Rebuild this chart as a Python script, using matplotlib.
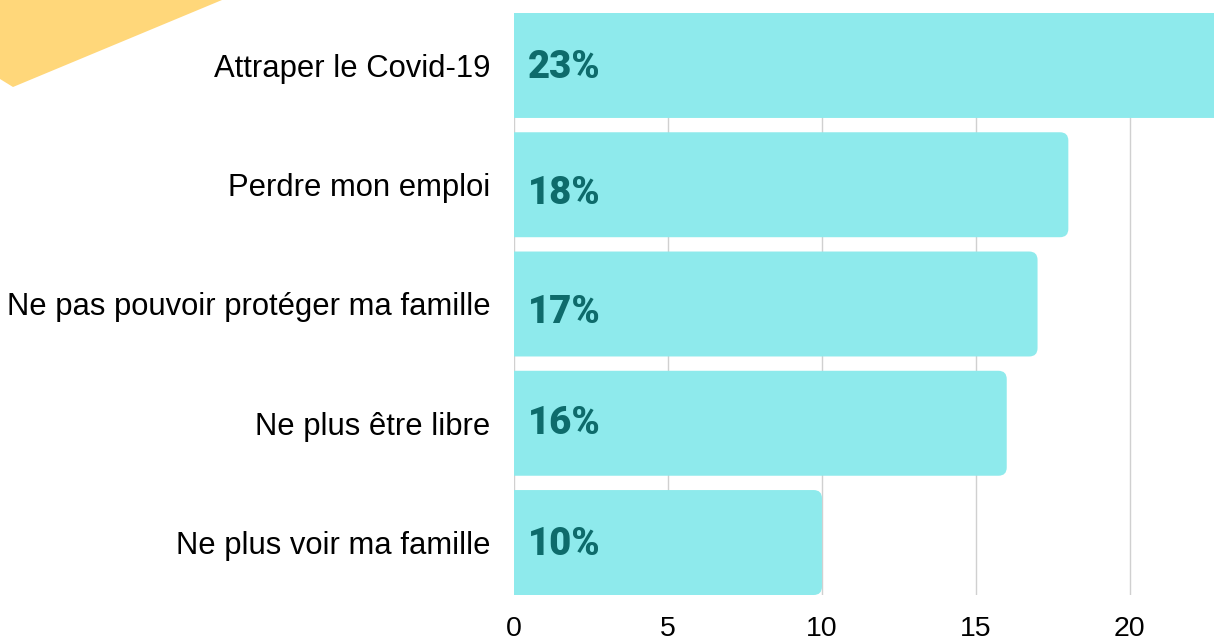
import matplotlib.pyplot as plt
from matplotlib.patches import FancyBboxPatch, Polygon

categories = ["Attraper le Covid-19", "Perdre mon emploi",
              "Ne pas pouvoir protéger ma famille", "Ne plus être libre",
              "Ne plus voir ma famille"]
values = [23, 18, 17, 16, 10]
labels = ["23%", "18%", "17%", "16%", "10%"]

bar_color = "#8eeaec"
text_color = "#0e6b6b"

plt.rcParams['font.family'] = ['Liberation Sans', 'DejaVu Sans']

fig = plt.figure(figsize=(12.14, 6.41), dpi=100)
ax = fig.add_axes([514 / 1214, 1 - 595 / 641, 1 - 514 / 1214, (595 - 13) / 641])

# decorative yellow shape in the top left corner
fig.patches.append(Polygon([(0, 1), (222 / 1214, 1), (13 / 1214, 1 - 87 / 641), (0, 1 - 79 / 641)],
                           closed=True, transform=fig.transFigure, facecolor="#ffd77a",
                           edgecolor="none", zorder=0))

y = list(range(len(values)))
bars = ax.barh(y, values, height=0.88, color=bar_color, zorder=2)
ax.set_xlim(0, 22.73)
ax.set_ylim(4.44, -0.44)

# swap plain bars for ones with rounded right corners
aspect = (1 / 119.3) / (1 / 30.8)
for b in bars:
    b.set_visible(False)
    r = FancyBboxPatch((b.get_x() - 1, b.get_y()), b.get_width() + 1, b.get_height(),
                       boxstyle="round,pad=0,rounding_size=0.27", mutation_aspect=aspect,
                       facecolor=bar_color, edgecolor="none", zorder=2)
    ax.add_patch(r)

offsets = [0.02, 0.07, 0.07, 0.0, 0.02]
for yi, lab, dy in zip(y, labels, offsets):
    ax.text(0.45, yi + dy, lab, va="center", ha="left", fontsize=27.5,
            fontfamily=["Roboto", "DejaVu Sans"], fontweight="black", color=text_color, zorder=3)

ax.set_yticks(y)
ax.set_yticklabels(categories, fontsize=22.3)
ax.set_xticks([0, 5, 10, 15, 20])
ax.tick_params(axis="y", length=0, pad=17)
ax.tick_params(axis="x", length=0, pad=15, labelsize=20.5)
ax.grid(axis="x", color="#d0d0d0", linewidth=1, zorder=0)
ax.set_axisbelow(True)
for s in ax.spines.values():
    s.set_visible(False)

fig.savefig("out.png", dpi=100)
